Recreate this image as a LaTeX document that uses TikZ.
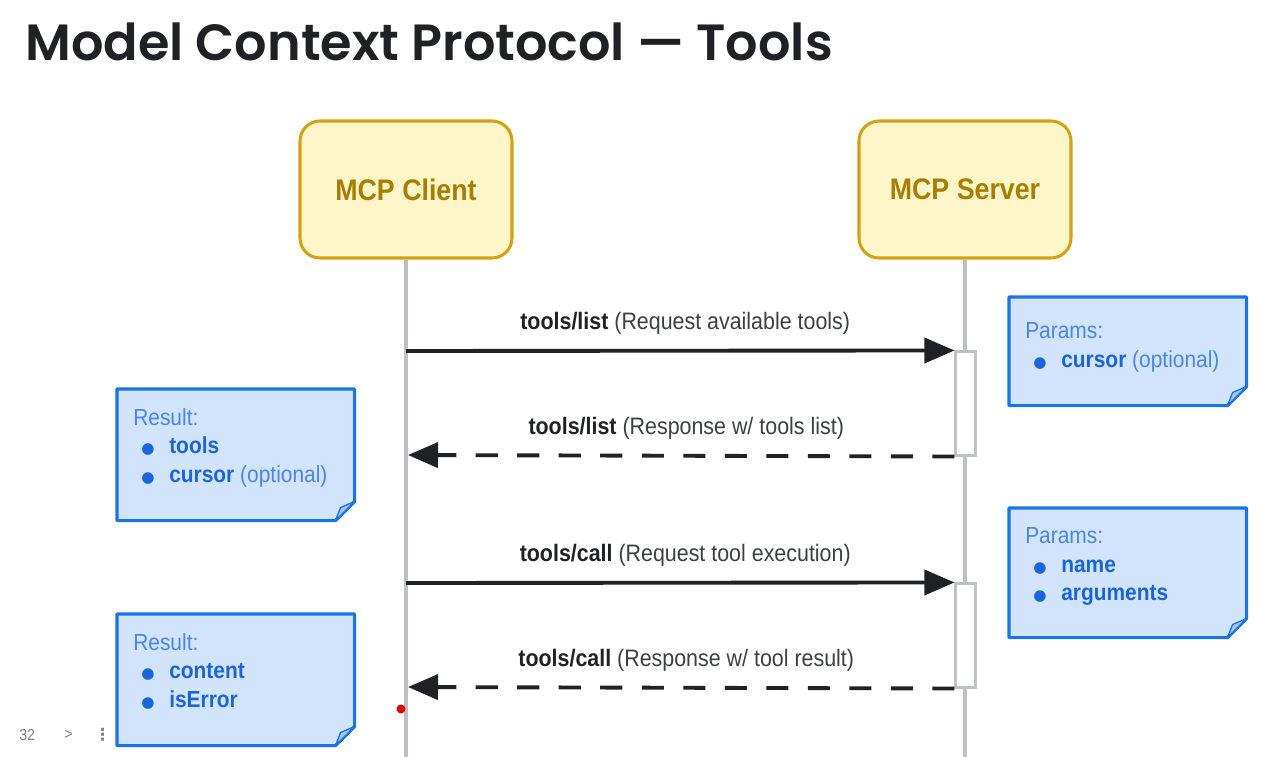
\documentclass[tikz,border=0pt]{standalone}
\usepackage{fontspec}
\usepackage{xcolor}
\usepackage{tikz}
\usetikzlibrary{arrows.meta,calc,positioning}

\setmainfont{Liberation Sans}[FakeStretch=0.9]
\newfontfamily\titlefont{Poppins}[UprightFont=* SemiBold]
\newfontfamily\symfont{DejaVu Sans}

\definecolor{inkdark}{HTML}{202124}
\definecolor{inkgray}{HTML}{3C4043}
\definecolor{lifegray}{HTML}{BDC1C6}
\definecolor{boxfill}{HTML}{FEF6C9}
\definecolor{boxline}{HTML}{D4A210}
\definecolor{boxtext}{HTML}{A87E00}
\definecolor{notefill}{HTML}{D2E3FC}
\definecolor{noteline}{HTML}{1A73E8}
\definecolor{notetext}{HTML}{4A86E8}
\definecolor{notebold}{HTML}{1A66D9}
\definecolor{foldfill}{HTML}{A8C7FA}

\tikzset{
  actor/.style={draw=boxline,fill=boxfill,line width=2.2pt,rounded corners=0.2in,
    minimum width=2.12in,minimum height=1.37in,text=boxtext,font=\fontsize{21.5}{24}\selectfont\bfseries},
  lifeline/.style={draw=lifegray,line width=3pt},
  actbar/.style={draw=lifegray,fill=white,line width=1.5pt,minimum width=0.2in,minimum height=1.04in,inner sep=0pt},
  request/.style={draw=inkdark,line width=2.8pt,-{Triangle[length=0.3in,width=0.25in]}},
  response/.style={request,dash pattern=on 16pt off 14pt},
  msglabel/.style={text=inkgray,font=\fontsize{17.2}{20}\selectfont,inner sep=0pt,xshift=0.05in},
  notebox/.style={minimum width=2.37in,inner sep=0pt,anchor=north west},
  noteshape/.style={draw=noteline,fill=notefill,line width=2.2pt,line join=round},
  notetxt/.style={text=notetext,font=\fontsize{16.8}{20.8}\selectfont,align=left,anchor=north west,inner sep=0pt}
}
\newcommand{\itm}[1]{\hspace*{0.08in}\makebox[0.28in][l]{\color{notebold}\symfont\fontsize{11}{0}\selectfont ●}{\color{notebold}\bfseries #1}}

\begin{document}
\begin{tikzpicture}
    \useasboundingbox (0,0) rectangle (12.67in,-7.57in);
    \fill[white] (0,0) rectangle (12.67in,-7.57in);

    % title
    \node[anchor=base west,inner sep=0pt,text=inkdark,font=\titlefont\fontsize{36.8}{42}\selectfont] (title) at (0.25in,-0.61in) {Model Context Protocol — Tools};

    % participants
    \node[actor] (client) at (4.06in,-1.895in) {MCP Client};
    \node[actor] (server) at (9.65in,-1.895in) {MCP Server};
    \coordinate (clientend) at (4.06in,-7.57in);
    \coordinate (serverend) at (9.65in,-7.57in);
    \draw[lifeline] (client.south) -- (clientend);
    \draw[lifeline] (server.south) -- (serverend);

    % activations
    \node[actbar] (act1) at (9.655in,-4.035in) {};
    \node[actbar] (act2) at (9.655in,-6.355in) {};

    % messages
    \coordinate (list1) at (4.06in,-3.51in);
    \coordinate (list2) at (4.08in,-4.55in);
    \coordinate (call1) at (4.06in,-5.83in);
    \coordinate (call2) at (4.08in,-6.87in);
    \draw[request] (list1) -- (act1.north west) node[msglabel,midway,above=0.14in] (lbl1) {{\color{inkdark}\bfseries tools/list} (Request available tools)};
    \draw[response] (act1.south west) -- (list2) node[msglabel,midway,above=0.14in] (lbl2) {{\color{inkdark}\bfseries tools/list} (Response w/ tools list)};
    \draw[request] (call1) -- (act2.north west) node[msglabel,midway,above=0.14in] (lbl3) {{\color{inkdark}\bfseries tools/call} (Request tool execution)};
    \draw[response] (act2.south west) -- (call2) node[msglabel,midway,above=0.14in] (lbl4) {{\color{inkdark}\bfseries tools/call} (Response w/ tool result)};

    % notes
    \node[notebox,minimum height=1.08in] (par1) at (10.09in,-2.97in) {};
    \node[notebox,minimum height=1.31in] (res1) at (1.17in,-3.89in) {};
    \node[notebox,minimum height=1.29in] (par2) at (10.09in,-5.08in) {};
    \node[notebox,minimum height=1.31in] (res2) at (1.17in,-6.14in) {};
    \foreach \n in {par1,res1,par2,res2} {
        \draw[noteshape] (\n.north west) -- (\n.north east) -- ($(\n.south east)+(0,0.19in)$)
            -- ($(\n.south east)+(-0.19in,0)$) -- (\n.south west) -- cycle;
        \filldraw[draw=noteline,fill=foldfill,line width=1pt,line join=round] ($(\n.south east)+(0,0.19in)$)
            -- ($(\n.south east)+(-0.14in,0.13in)$) -- ($(\n.south east)+(-0.19in,0)$) -- cycle;
    }
    \node[notetxt] (par1t) at ($(par1.north west)+(0.16in,-0.25in)$) {Params:\\\itm{cursor} (optional)};
    \node[notetxt] (res1t) at ($(res1.north west)+(0.16in,-0.19in)$) {Result:\\\itm{tools}\\\itm{cursor} (optional)};
    \node[notetxt] (par2t) at ($(par2.north west)+(0.16in,-0.19in)$) {Params:\\\itm{name}\\\itm{arguments}};
    \node[notetxt] (res2t) at ($(res2.north west)+(0.16in,-0.19in)$) {Result:\\\itm{content}\\\itm{isError}};

    % slide footer
    \node[anchor=west,inner sep=0pt,text=gray,font=\fontsize{11.5}{13}\selectfont] (slideno) at (0.19in,-7.35in) {32};
    \node[anchor=west,inner sep=0pt,text=gray,font=\fontsize{11.5}{13}\selectfont] (slidenext) at (0.64in,-7.35in) {>};
    \node[anchor=west,inner sep=0pt,text=gray,font=\fontsize{12}{12}\selectfont\bfseries] (slidemenu) at (0.94in,-7.35in) {\symfont ⋮};
    \fill[red!90!black] (4.01in,-7.09in) circle (0.045in);
\end{tikzpicture}
\end{document}
